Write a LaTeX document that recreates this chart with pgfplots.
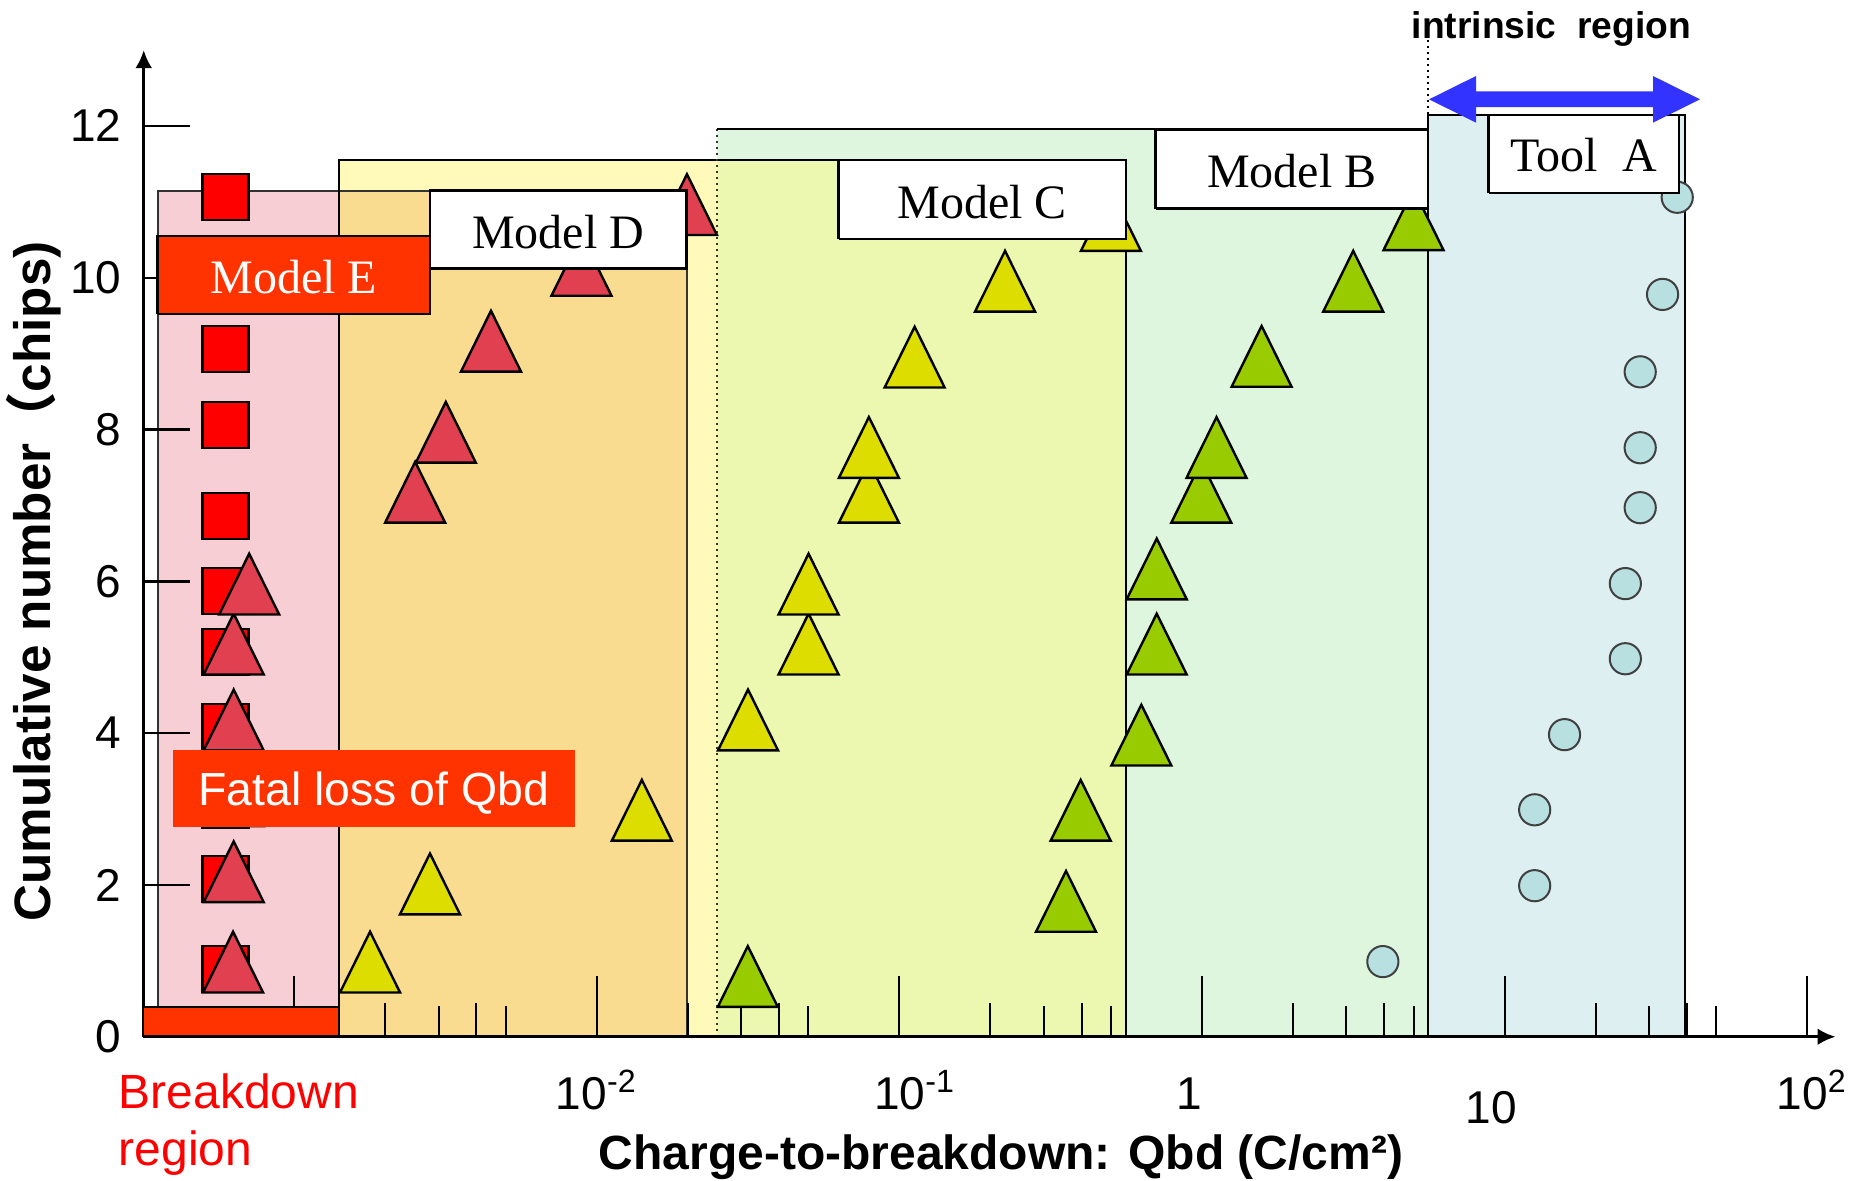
\documentclass[border=0pt]{standalone}
\usepackage{fontspec}
\setmainfont{Liberation Sans}
\newfontfamily\serif{Liberation Serif}
\newfontfamily\cjk{Noto Sans CJK JP}
\usepackage{pgfplots}
\pgfplotsset{compat=1.18}
\usetikzlibrary{arrows.meta}
\definecolor{ered}{RGB}{255,51,0}
\definecolor{sqred}{RGB}{255,0,0}
\definecolor{trired}{RGB}{224,64,80}
\definecolor{triyel}{RGB}{221,221,0}
\definecolor{trigrn}{RGB}{153,204,0}
\definecolor{circ}{RGB}{184,224,224}
\definecolor{regpink}{RGB}{247,206,211}
\definecolor{regorange}{RGB}{250,220,145}
\definecolor{regyellow}{RGB}{255,250,185}
\definecolor{regyg}{RGB}{236,248,175}
\definecolor{reggreen}{RGB}{222,246,222}
\definecolor{regblue}{RGB}{222,239,241}
\definecolor{arrowblue}{RGB}{51,51,255}
\begin{document}
\begin{tikzpicture}
\begin{axis}[
  set layers,
  clip marker paths=true,
  scale only axis, width=422.94pt, height=246.675pt,
  xmode=log, xmin=3.183e-4, xmax=124.1, ymin=0, ymax=13,
  axis lines=left,
  axis line style={line width=0.8pt, -{Latex[length=4.5pt,width=4.2pt]}},
  clip=false,
  tick align=inside,
  major tick length=11.7pt,
  ytick={0,2,4,6,8,10,12},
  ytick style={line width=0.6pt, black},
  xtick={0.01,0.1,1,10,100},
  xticklabels={10\textsuperscript{-2}, \hspace*{7.8pt}10\textsuperscript{-1}, 1\hspace*{6.5pt}, \raisebox{-3.5pt}{10}\hspace*{6.6pt}, \hspace*{2.5pt}10\textsuperscript{2}},
  xtick style={draw=none},
  /pgf/number format/assume math mode=true,
  tick label style={font=\fontsize{11.5}{13}\selectfont},
  yticklabel style={xshift=-2.1pt},
  xticklabel style={anchor=base, yshift=-18.2pt},
  xlabel={Charge-to-breakdown: Qbd (C/cm²)},
  xlabel style={at={(axis cs:0.2165,-1.743)}, anchor=base, font=\bfseries\fontsize{12}{14}\selectfont},
  ylabel={Cumulative number{\cjk （}chips)},
  ylabel style={at={(axis cs:1.568e-4,6.0)}, anchor=base, rotate=0, font=\bfseries\fontsize{12.8}{15}\selectfont},
]
% ---- region fills
\addplot[on layer=axis background, draw=none, fill=regyellow] coordinates {(1.406e-3,0) (1.406e-3,11.551) (0.5609,11.551) (0.5609,0)};
\addplot[on layer=axis background, draw=none, fill=reggreen] coordinates {(2.495e-2,0) (2.495e-2,11.959) (5.583,11.959) (5.583,0)};
\addplot[on layer=axis background, draw=none, fill=regyg] coordinates {(2.495e-2,0) (2.495e-2,11.551) (0.5609,11.551) (0.5609,0)};
\addplot[on layer=axis background, draw=none, fill=regpink] coordinates {(3.536e-4,0) (3.536e-4,11.146) (1.980e-2,11.146) (1.980e-2,0)};
\addplot[on layer=axis background, draw=none, fill=regorange] coordinates {(1.406e-3,0) (1.406e-3,11.146) (1.980e-2,11.146) (1.980e-2,0)};
\addplot[on layer=axis background, draw=none, fill=regblue] coordinates {(5.583,0) (5.583,12.144) (39.47,12.144) (39.47,0)};
% ---- region outlines
\addplot[on layer=axis background, black!80, line width=0.5pt] coordinates {(3.536e-4,0) (3.536e-4,11.146) (1.980e-2,11.146) (1.980e-2,0)};
\addplot[on layer=axis background, black, line width=0.6pt] coordinates {(1.406e-3,0) (1.406e-3,11.551) (0.5609,11.551) (0.5609,0)};
\addplot[on layer=axis background, black!80, densely dotted, line width=0.5pt] coordinates {(2.495e-2,0) (2.495e-2,11.959)};
\addplot[on layer=axis background, black, line width=0.6pt] coordinates {(2.495e-2,11.959) (5.583,11.959) (5.583,0)};
\addplot[on layer=axis background, black, line width=0.7pt] coordinates {(5.583,0) (5.583,12.144) (39.47,12.144) (39.47,0)};
% ---- x tick marks (log scale, drawn upward)
\addplot[ycomb, black, line width=0.5pt] coordinates {
 (1e-3,0.80) (1e-2,0.80) (0.1,0.80) (1,0.80) (10,0.80) (100,0.80)
 (2e-3,0.44) (4e-3,0.44) (2e-2,0.44) (4e-2,0.44) (0.2,0.44) (0.4,0.44) (2,0.44) (4,0.44) (20,0.44) (40,0.44)
 (3e-3,0.40) (5e-3,0.40) (3e-2,0.40) (5e-2,0.40) (0.3,0.40) (0.5,0.40) (3,0.40) (5,0.40) (30,0.40) (50,0.40)};
% ---- Model E (squares)
\addplot[only marks, mark=square*, mark size=5.75pt, mark options={fill=sqred, draw=black, line width=0.6pt}] coordinates {
 (5.93e-4,0.89) (5.93e-4,2.08) (5.93e-4,3.05) (5.93e-4,4.08) (5.93e-4,5.07) (5.93e-4,5.87)
 (5.93e-4,6.86) (5.93e-4,8.06) (5.93e-4,9.06) (5.93e-4,10.05) (5.93e-4,11.06)};
% ---- Model D (red triangles)
\addplot[only marks, mark=triangle*, mark size=8.66pt, mark options={fill=trired, draw=black, line width=0.6pt, yscale=1.17}] coordinates {
 (6.28e-4,0.85) (6.31e-4,2.04) (6.31e-4,3.04) (6.31e-4,4.04) (6.31e-4,5.04) (7.10e-4,5.83)
 (2.51e-3,7.04) (3.17e-3,7.83) (4.47e-3,9.03) (8.90e-3,10.03) (1.986e-2,10.83)};
% ---- Model C (yellow triangles)
\addplot[only marks, mark=triangle*, mark size=8.66pt, mark options={fill=triyel, draw=black, line width=0.6pt, yscale=1.17}] coordinates {
 (1.781e-3,0.85) (2.81e-3,1.88) (1.409e-2,2.85) (3.16e-2,4.04) (5.01e-2,5.04) (5.01e-2,5.83)
 (7.93e-2,7.04) (7.93e-2,7.63) (0.1123,8.82) (0.2234,9.82) (0.500,10.62)};
% ---- Model B (green triangles)
\addplot[only marks, mark=triangle*, mark size=8.66pt, mark options={fill=trigrn, draw=black, line width=0.6pt, yscale=1.17}] coordinates {
 (3.155e-2,0.66) (0.3553,1.65) (0.3973,2.85) (0.6304,3.84) (0.7085,5.04) (0.7085,6.03)
 (0.9947,7.04) (1.117,7.63) (1.574,8.83) (3.160,9.82) (5.00,10.63)};
% ---- Tool A (circles)
\addplot[only marks, mark=*, mark size=3.9pt, mark options={fill=circ, draw=black!75, line width=0.5pt}] coordinates {
 (3.96,0.99) (12.57,1.99) (12.57,2.99) (15.78,3.98) (25.06,4.98) (25.06,5.97)
 (28.06,6.97) (28.06,7.76) (28.06,8.76) (33.27,9.78) (37.19,11.06)};
% ---- label boxes
\addplot[fill=ered, draw=black, line width=0.7pt] coordinates {(3.536e-4,9.522) (3.536e-4,10.549) (2.81e-3,10.549) (2.81e-3,9.522) (3.536e-4,9.522)};
\addplot[fill=white, draw=black, line width=0.7pt] coordinates {(2.81e-3,10.119) (2.81e-3,11.146) (1.980e-2,11.146) (1.980e-2,10.119) (2.81e-3,10.119)};
\addplot[fill=white, draw=black, line width=0.7pt] coordinates {(6.303e-2,10.510) (6.303e-2,11.551) (0.5609,11.551) (0.5609,10.510) (6.303e-2,10.510)};
\addplot[fill=white, draw=black, line width=0.7pt] coordinates {(0.7035,10.909) (0.7035,11.946) (5.583,11.946) (5.583,10.909) (0.7035,10.909)};
\addplot[fill=white, draw=black, line width=0.7pt] coordinates {(8.867,11.116) (8.867,12.144) (37.70,12.144) (37.70,11.116) (8.867,11.116)};
\addplot[fill=ered, draw=none] coordinates {(3.977e-4,2.767) (3.977e-4,3.777) (8.445e-3,3.777) (8.445e-3,2.767)};
\addplot[fill=ered, draw=black, line width=0.7pt] coordinates {(3.165e-4,0) (3.165e-4,0.391) (1.406e-3,0.391) (1.406e-3,0) (3.165e-4,0)};
% ---- intrinsic region arrow
\addplot[fill=arrowblue, draw=none] coordinates {(5.626,12.350) (8.044,12.657) (8.044,12.454) (30.94,12.454) (30.94,12.657) (44.24,12.350) (30.94,12.043) (30.94,12.247) (8.044,12.247) (8.044,12.043)};
\addplot[black, densely dotted, line width=0.5pt] coordinates {(5.583,13.13) (5.583,12.144)};
% ---- texts
\node[font=\serif\fontsize{12}{14}\selectfont, text=white] at (axis cs:9.97e-4,10.005) {Model E};
\node[font=\serif\fontsize{12}{14}\selectfont] at (axis cs:7.46e-3,10.603) {Model D};
\node[font=\serif\fontsize{12}{14}\selectfont] at (axis cs:0.1880,11.00) {Model C};
\node[font=\serif\fontsize{12}{14}\selectfont] at (axis cs:1.982,11.40) {Model B};
\node[font=\serif\fontsize{12}{14}\selectfont] at (axis cs:18.28,11.61) {Tool~~A};
\node[font=\fontsize{11.6}{14}\selectfont, text=white] at (axis cs:1.833e-3,3.212) {Fatal loss of Qbd};
\node[anchor=base west, inner sep=0pt, text=sqred, font=\fontsize{12}{14}\selectfont] at (axis cs:2.617e-4,-0.939) {Breakdown};
\node[anchor=base west, inner sep=0pt, text=sqred, font=\fontsize{12}{14}\selectfont] at (axis cs:2.617e-4,-1.690) {region};
\node[anchor=base, font=\bfseries\fontsize{9.3}{11}\selectfont] at (axis cs:14.28,13.154) {intrinsic~~region};
\coordinate (bl) at (axis cs:1.066e-4,-1.888);
\coordinate (tr) at (axis cs:142.8,13.659);
\end{axis}
\pgfresetboundingbox
\path[use as bounding box] (bl) rectangle (tr);
\end{tikzpicture}
\end{document}
